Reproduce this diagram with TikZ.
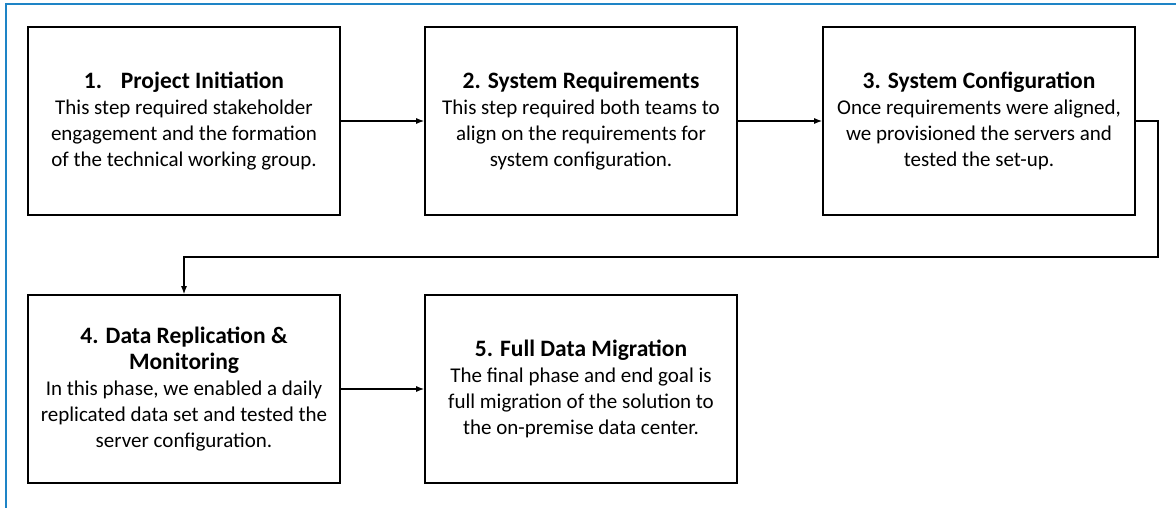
\documentclass[tikz,border=0pt]{standalone}
\usepackage{fontspec}
\setmainfont{Carlito}
\usetikzlibrary{arrows.meta}
\definecolor{frameblue}{RGB}{30,132,198}
\newcommand{\steptitle}[1]{{\fontsize{23.5}{27}\selectfont\bfseries #1}}

\begin{document}
\begin{tikzpicture}[
    x=1pt, y=-1pt,
    stepbox/.style={rectangle, draw, line width=1.6pt, minimum width=312pt, minimum height=188pt,
        inner sep=0pt, align=center, font=\fontsize{21}{26}\selectfont},
    link/.style={draw, line width=1.3pt, -{Latex[length=8pt,width=6pt]}}
]
\useasboundingbox (0,0) rectangle (1176,508);

% outer frame
\draw[frameblue, line width=2.8pt] (6,515) -- (6,4) -- (1185,4);

% top row
\node[stepbox] (s1) at (184,121) {\steptitle{1.\hspace{0.8em}Project Initiation}\\
    This step required stakeholder\\ engagement and the formation\\ of the technical working group.};
\node[stepbox] (s2) at (581,121) {\steptitle{2. System Requirements}\\
    This step required both teams to\\ align on the requirements for\\ system configuration.};
\node[stepbox] (s3) at (979,121) {\steptitle{3. System Configuration}\\
    Once requirements were aligned,\\ we provisioned the servers and\\ tested the set-up.};

% bottom row
\node[stepbox] (s4) at (184,389) {\steptitle{4. Data Replication \&}\\ \steptitle{Monitoring}\\
    In this phase, we enabled a daily\\ replicated data set and tested the\\ server configuration.};
\node[stepbox] (s5) at (581,389) {\steptitle{5. Full Data Migration}\\
    The final phase and end goal is\\ full migration of the solution to\\ the on-premise data center.};

% arrows
\draw[link] (s1) -- (s2);
\draw[link] (s2) -- (s3);
\coordinate (turn) at (1158,257);
\draw[link] (s3.east) -| (turn) -| (s4.north);
\draw[link] (s4) -- (s5);

\end{tikzpicture}
\end{document}
